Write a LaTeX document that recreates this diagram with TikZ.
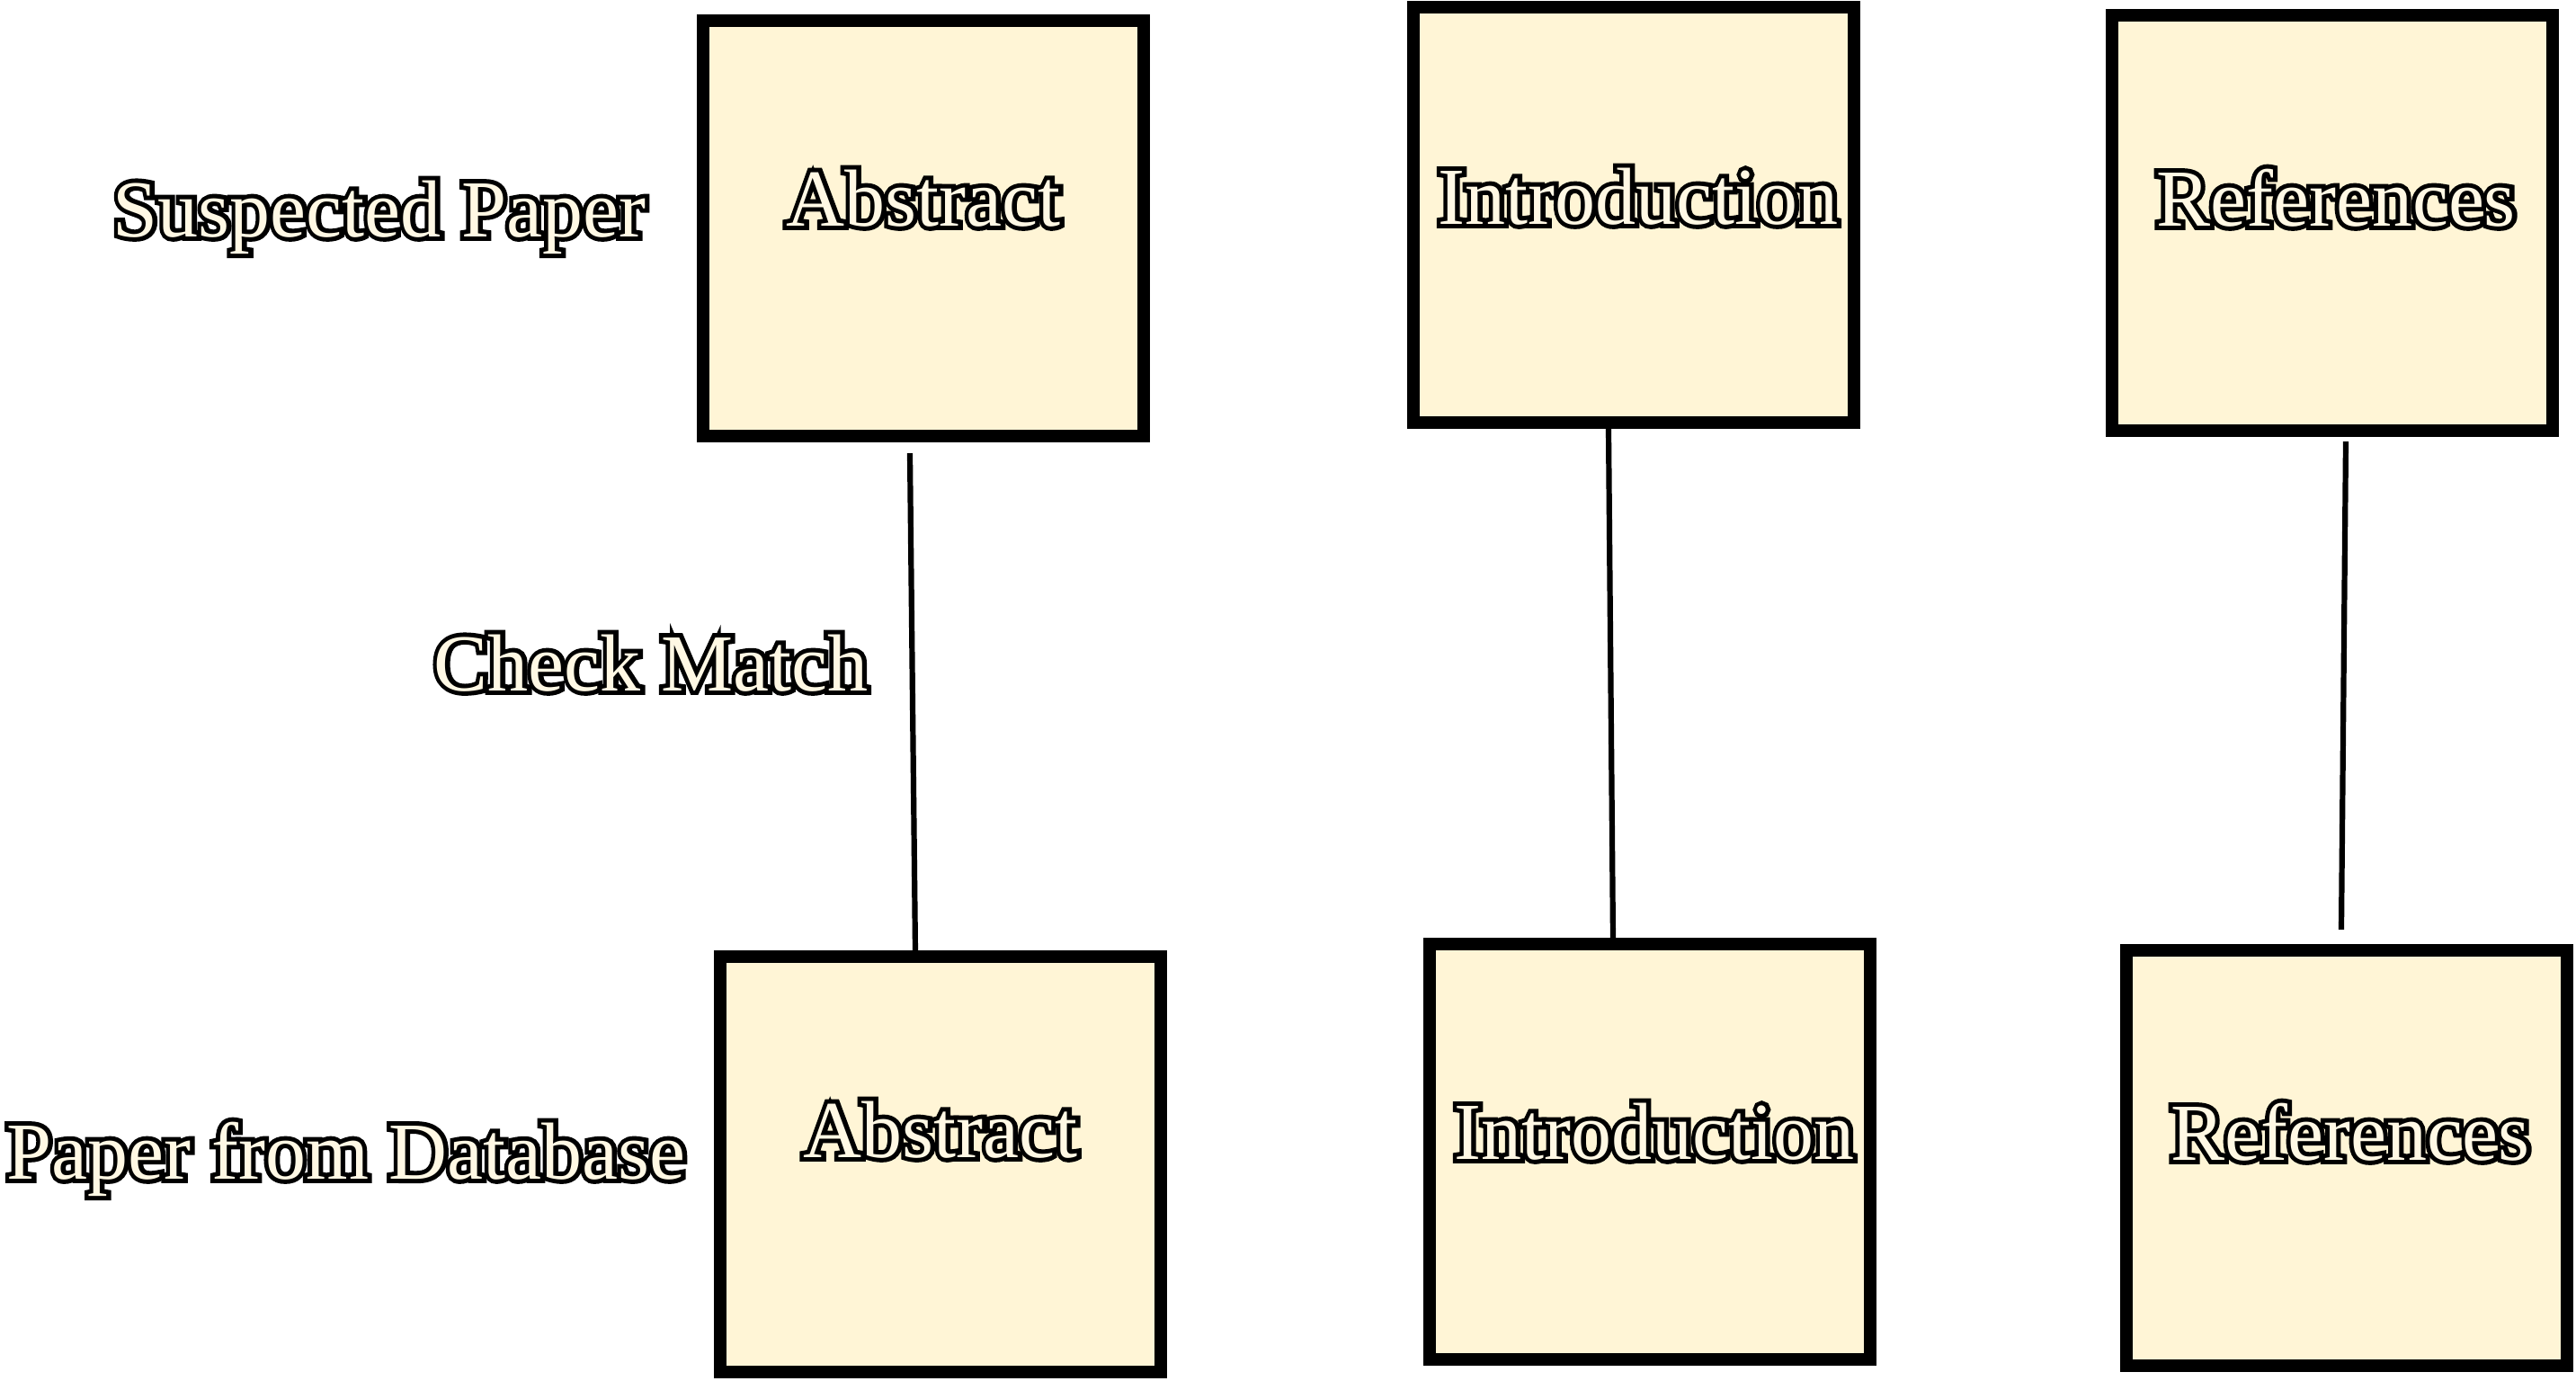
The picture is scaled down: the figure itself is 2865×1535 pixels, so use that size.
\documentclass[tikz,border=0pt]{standalone}
\usepackage{fontspec}
\setmainfont{Liberation Serif}
\newfontfamily\fatfont[FakeBold=11]{Liberation Serif}
\newfontfamily\thinfont{Liberation Serif}
\usetikzlibrary{calc}
\definecolor{boxfill}{HTML}{FFF5D6}
\definecolor{inkfill}{HTML}{FFF8E4}
\newcommand\otext[1]{\makebox[0pt][l]{\fatfont\color{black}#1}\textcolor{inkfill}{\thinfont #1}}
\begin{document}
\begin{tikzpicture}[x=0.01cm,y=-0.01cm,
  box/.style={draw=black,line width=0.14cm,fill=boxfill,minimum width=4.9cm,minimum height=4.62cm,inner sep=0pt},
  lbl/.style={font=\fontsize{25.6}{30}\selectfont,inner sep=0pt,anchor=base},
  link/.style={line width=0.062cm}]
\useasboundingbox (0,0) rectangle (2865,1535);
% boxes
\node[box] (ta) at (1027,254) {};
\node[box] (ti) at (1817,239) {};
\node[box] (tr) at (2594,248) {};
\node[box] (ba) at (1046,1295) {};
\node[box] (bi) at (1835,1281) {};
\node[box] (br) at (2610,1288) {};
% box texts
\node[lbl] (tat) at ($(ta.center)+(0,-3)$) {\otext{Abstract}};
\node[lbl] (tit) at ($(ti.center)+(5,10)$) {\otext{Introduction}};
\node[lbl] (trt) at ($(tr.center)+(4,3)$) {\otext{References}};
\node[lbl] (bat) at ($(ba.center)+(0,-8)$) {\otext{Abstract}};
\node[lbl] (bit) at ($(bi.center)+(5,8)$) {\otext{Introduction}};
\node[lbl] (brt) at ($(br.center)+(4,2)$) {\otext{References}};
% side labels
\node[lbl] (sp) at (422,263) {\otext{Suspected Paper}};
\node[lbl] (cm) at (724,768) {\otext{Check Match}};
\node[lbl] (pd) at (385,1311) {\otext{Paper from Database}};
% connectors
\draw[link] ($(ta.south)+(-15,12)$) -- ($(ba.north)+(-28,2)$);
\draw[link] ($(ti.south)+(-28,0)$) -- ($(bi.north)+(-41,2)$);
\draw[link] ($(tr.south)+(15,5)$) -- ($(br.north)+(-6,-16)$);
\end{tikzpicture}
\end{document}
